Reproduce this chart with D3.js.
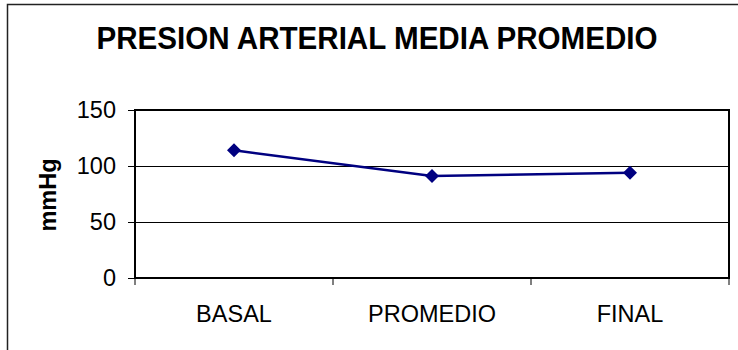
<!DOCTYPE html>
<html>
<head>
<meta charset="utf-8">
<script src="https://cdn.jsdelivr.net/npm/d3@7"></script>
<style>
  body { margin: 0; background: #fff; }
  svg { display: block; font-family: Arial, "Liberation Sans", sans-serif; }
</style>
</head>
<body>
<svg></svg>
<script>
// Presión arterial media promedio (D3 v7)

const categories = ["BASAL", "PROMEDIO", "FINAL"];
const values = [114, 91, 94];
const yTicks = [0, 50, 100, 150];

const width = 738;
const height = 350;

const svg = d3.select("svg").attr("width", width).attr("height", height);

// Outer chart frame (right/bottom edges fall outside the picture)
svg.append("rect")
  .attr("x", 7.5).attr("y", 4.5)
  .attr("width", 760).attr("height", 380)
  .attr("fill", "#fff")
  .attr("stroke", "#222")
  .attr("stroke-width", 1.5);

// Plot area
const plot = { left: 135, right: 729, top: 110, bottom: 278 };

const x = d3.scaleBand().domain(categories).range([plot.left, plot.right]);
const y = d3.scaleLinear().domain([0, 150]).range([plot.bottom, plot.top]);

// Title
svg.append("text")
  .attr("x", 377).attr("y", 49)
  .attr("text-anchor", "middle")
  .attr("font-weight", "bold")
  .attr("font-size", 31)
  .attr("textLength", 561)
  .attr("lengthAdjust", "spacingAndGlyphs")
  .text("PRESION ARTERIAL MEDIA PROMEDIO");

// Gridlines
svg.append("g")
  .selectAll("line")
  .data(yTicks.filter((d) => d > 0 && d < 150))
  .join("line")
  .attr("x1", plot.left).attr("x2", plot.right)
  .attr("y1", (d) => Math.round(y(d)) + 0.5)
  .attr("y2", (d) => Math.round(y(d)) + 0.5)
  .attr("stroke", "#000")
  .attr("stroke-width", 1);

// Plot frame
svg.append("rect")
  .attr("x", plot.left).attr("y", plot.top)
  .attr("width", plot.right - plot.left)
  .attr("height", plot.bottom - plot.top)
  .attr("fill", "none")
  .attr("stroke", "#000")
  .attr("stroke-width", 2);

// Y axis
const yAxis = svg.append("g")
  .attr("transform", `translate(${plot.left},0)`)
  .call(d3.axisLeft(y).tickValues(yTicks).tickSize(7).tickPadding(12));
yAxis.select(".domain").remove();
yAxis.selectAll("line").attr("stroke", "#000");
yAxis.selectAll("text")
  .attr("font-size", 23.5)
  .attr("font-family", "Arial, 'Liberation Sans', sans-serif")
  .attr("fill", "#000");

// X axis ticks at band edges
const edges = categories.map((c) => x(c)).concat([plot.right]);
svg.append("g")
  .selectAll("line")
  .data(edges)
  .join("line")
  .attr("x1", (d) => d).attr("x2", (d) => d)
  .attr("y1", plot.bottom).attr("y2", plot.bottom + 7)
  .attr("stroke", "#000");

svg.append("g")
  .selectAll("text")
  .data(categories)
  .join("text")
  .attr("x", (d) => x(d) + x.bandwidth() / 2)
  .attr("y", 322)
  .attr("text-anchor", "middle")
  .attr("font-size", 23.5)
  .text((d) => d);

// Y axis title
svg.append("text")
  .attr("transform", "translate(56,195) rotate(-90)")
  .attr("text-anchor", "middle")
  .attr("font-weight", "bold")
  .attr("font-size", 23.5)
  .text("mmHg");

// Series line
const pts = categories.map((c, i) => [x(c) + x.bandwidth() / 2, y(values[i])]);
svg.append("path")
  .attr("d", d3.line()(pts))
  .attr("fill", "none")
  .attr("stroke", "#000080")
  .attr("stroke-width", 2.5);

// Diamond markers
svg.append("g")
  .selectAll("path")
  .data(pts)
  .join("path")
  .attr("transform", (d) => `translate(${d[0]},${d[1]})`)
  .attr("d", "M0,-7L7,0L0,7L-7,0Z")
  .attr("fill", "#000080");
</script>
</body>
</html>
